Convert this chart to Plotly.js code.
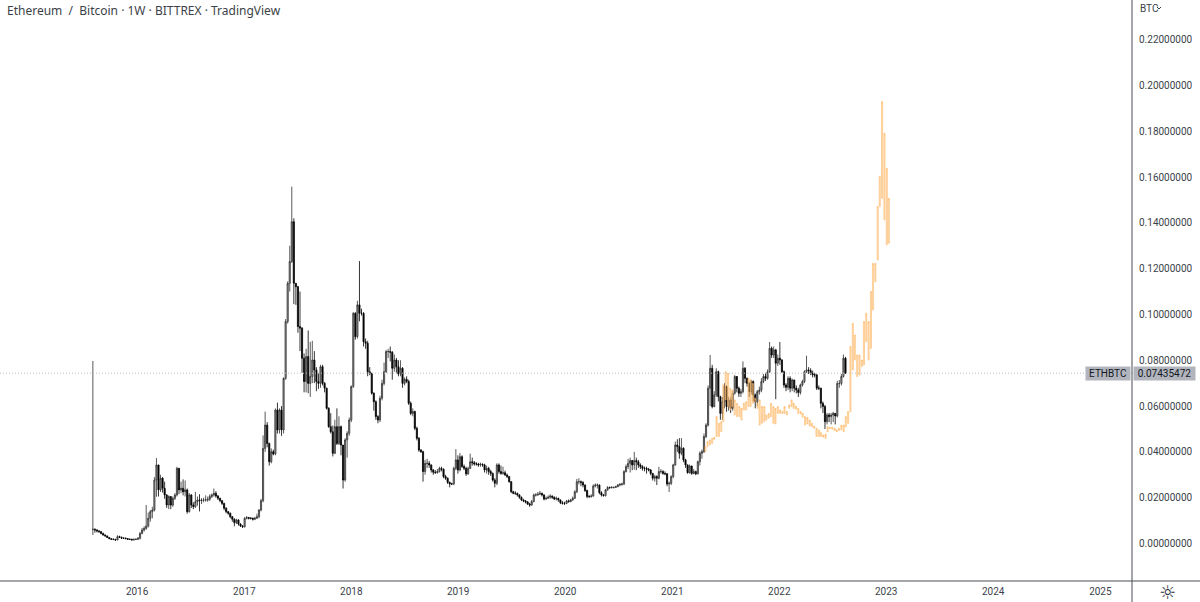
<!DOCTYPE html>
<html>
<head>
<meta charset="utf-8">
<script src="https://cdn.plot.ly/plotly-3.0.1.min.js"></script>
<style>
  html, body { margin: 0; padding: 0; background: #fff; }
  #chart { width: 1200px; height: 602px; }
</style>
</head>
<body>
<div id="chart"></div>
<script>
// weekly candles, first one is the week of 2015-08-03
var firstWeek = '2015-08-03';
var firstOpen = 0.0062;
var lastPrice = 0.07435472;

var closes = [
  .0062,.0059,.0055,.0052,.0044,.0037,.0033,.0026,.0021,.0018,.0018,.0015,.0030,.0027,.0023,.0023,.0021,.0018,.0018,.0015,
  .0018,.0018,.0023,.0044,.0059,.0066,.0076,.0110,.0139,.0146,.0277,.0343,.0234,.0285,.0241,.0212,.0168,.0205,.0168,.0197,
  .0212,.0328,.0234,.0241,.0226,.0234,.0139,.0212,.0168,.0161,.0183,.0190,.0187,.0190,.0190,.0190,.0193,.0205,.0212,.0219,
  .0207,.0197,.0187,.0175,.0154,.0139,.0132,.0117,.0106,.0091,.0103,.0085,.0076,.0073,.0110,.0113,.0110,.0110,.0106,.0110,
  .0117,.0146,.0187,.0415,.0517,.0437,.0357,.0401,.0391,.0583,.0496,.0583,.0496,.0721,.0969,.1136,.1231,.1405,.1136,.1121,
  .0947,.0940,.0809,.0707,.0816,.0699,.0729,.0801,.0758,.0707,.0699,.0772,.0699,.0678,.0590,.0510,.0488,.0394,.0510,.0437,
  .0510,.0430,.0277,.0452,.0481,.0539,.0685,.1005,.0903,.1042,.1005,.1005,.0881,.0874,.0750,.0743,.0656,.0619,.0554,.0539,
  .0634,.0699,.0750,.0838,.0838,.0835,.0765,.0801,.0772,.0740,.0765,.0699,.0717,.0707,.0612,.0568,.0576,.0503,.0459,.0408,
  .0401,.0314,.0350,.0350,.0343,.0321,.0311,.0309,.0314,.0328,.0324,.0292,.0285,.0267,.0260,.0260,.0328,.0365,.0321,.0379,
  .0336,.0328,.0304,.0328,.0357,.0353,.0347,.0347,.0343,.0346,.0343,.0321,.0328,.0314,.0306,.0277,.0263,.0343,.0314,.0306,
  .0309,.0299,.0292,.0270,.0226,.0219,.0219,.0212,.0202,.0190,.0186,.0181,.0172,.0168,.0183,.0212,.0212,.0215,.0219,.0212,
  .0194,.0197,.0202,.0207,.0202,.0194,.0197,.0190,.0178,.0175,.0175,.0186,.0183,.0190,.0197,.0226,.0270,.0270,.0266,.0255,
  .0231,.0205,.0205,.0207,.0251,.0255,.0255,.0222,.0212,.0209,.0234,.0245,.0244,.0245,.0245,.0248,.0255,.0258,.0260,.0314,
  .0336,.0350,.0362,.0343,.0362,.0357,.0343,.0336,.0328,.0328,.0324,.0321,.0306,.0285,.0292,.0285,.0314,.0314,.0306,.0304,
  .0260,.0263,.0292,.0343,.0430,.0423,.0394,.0416,.0365,.0343,.0309,.0338,.0306,.0314,.0304,.0357,.0394,.0401,.0467,.0517,
  .0678,.0765,.0598,.0649,.0750,.0641,.0568,.0619,.0685,.0598,.0627,.0590,.0656,.0729,.0678,.0656,.0663,.0765,.0721,.0699,
  .0663,.0707,.0649,.0619,.0663,.0670,.0707,.0729,.0721,.0750,.0852,.0823,.0845,.0787,.0809,.0801,.0750,.0692,.0682,.0721,
  .0678,.0714,.0678,.0670,.0659,.0692,.0707,.0750,.0758,.0755,.0743,.0736,.0736,.0678,.0678,.0612,.0598,.0532,.0561,.0554,
  .0561,.0568,.0557,.0699,.0699,.0729,.0809,.0744
];

var highs = [
  .0797,.0066,.0062,.0058,.0052,.0047,.0040,.0034,.0028,.0023,.0022,.0020,.0036,.0034,.0030,.0027,.0026,.0024,.0022,.0021,
  .0022,.0023,.0028,.0050,.0068,.0075,.0168,.0135,.0146,.0160,.0290,.0373,.0343,.0300,.0290,.0270,.0215,.0210,.0205,.0205,
  .0220,.0335,.0330,.0270,.0280,.0275,.0240,.0220,.0215,.0180,.0225,.0205,.0215,.0198,.0200,.0210,.0205,.0215,.0218,.0240,
  .0228,.0212,.0200,.0190,.0178,.0158,.0142,.0135,.0120,.0110,.0108,.0105,.0088,.0080,.0115,.0120,.0116,.0115,.0113,.0116,
  .0130,.0150,.0195,.0472,.0576,.0530,.0440,.0415,.0410,.0590,.0615,.0590,.0600,.0725,.0980,.1145,.1300,.1558,.1420,.1135,
  .1125,.1100,.0945,.0830,.0850,.0930,.0880,.0885,.0840,.0770,.0745,.0780,.0780,.0705,.0680,.0595,.0569,.0515,.0540,.0590,
  .0555,.0515,.0430,.0460,.0490,.0550,.0690,.1010,.1010,.1060,.1233,.1025,.1010,.0895,.0885,.0770,.0745,.0660,.0625,.0560,
  .0645,.0715,.0790,.0845,.0850,.0860,.0840,.0825,.0810,.0800,.0800,.0770,.0725,.0730,.0715,.0620,.0590,.0580,.0510,.0465,
  .0412,.0405,.0365,.0370,.0360,.0345,.0325,.0320,.0325,.0335,.0335,.0328,.0300,.0288,.0270,.0265,.0335,.0412,.0385,.0395,
  .0385,.0345,.0335,.0335,.0392,.0375,.0360,.0355,.0352,.0353,.0350,.0348,.0340,.0335,.0322,.0310,.0285,.0350,.0350,.0340,
  .0335,.0318,.0305,.0295,.0272,.0230,.0228,.0222,.0215,.0205,.0195,.0190,.0185,.0178,.0190,.0218,.0220,.0225,.0230,.0222,
  .0215,.0205,.0210,.0215,.0210,.0205,.0205,.0200,.0192,.0185,.0182,.0190,.0192,.0195,.0205,.0232,.0282,.0285,.0275,.0272,
  .0258,.0235,.0212,.0215,.0258,.0262,.0262,.0258,.0228,.0216,.0238,.0250,.0248,.0250,.0248,.0252,.0260,.0264,.0265,.0320,
  .0345,.0370,.0375,.0365,.0400,.0375,.0365,.0350,.0342,.0336,.0335,.0330,.0325,.0308,.0300,.0298,.0335,.0325,.0320,.0315,
  .0308,.0270,.0298,.0348,.0445,.0455,.0460,.0460,.0420,.0370,.0345,.0345,.0340,.0325,.0318,.0362,.0402,.0410,.0480,.0525,
  .0690,.0823,.0780,.0665,.0765,.0755,.0645,.0640,.0700,.0690,.0640,.0640,.0665,.0735,.0715,.0685,.0675,.0795,.0770,.0725,
  .0705,.0715,.0712,.0655,.0670,.0685,.0722,.0740,.0745,.0760,.0880,.0860,.0860,.0850,.0825,.0880,.0805,.0755,.0700,.0730,
  .0730,.0720,.0715,.0690,.0680,.0698,.0715,.0756,.0820,.0770,.0765,.0755,.0745,.0740,.0690,.0680,.0620,.0605,.0570,.0570,
  .0570,.0575,.0570,.0710,.0714,.0740,.0825,.0815
];

var lows = [
  .0037,.0047,.0048,.0046,.0040,.0034,.0030,.0024,.0019,.0016,.0015,.0013,.0015,.0024,.0021,.0020,.0019,.0016,.0016,.0014,
  .0014,.0015,.0016,.0017,.0040,.0052,.0060,.0070,.0095,.0110,.0140,.0204,.0205,.0225,.0222,.0195,.0155,.0150,.0150,.0160,
  .0190,.0205,.0215,.0220,.0210,.0205,.0130,.0135,.0155,.0150,.0155,.0165,.0140,.0172,.0180,.0183,.0182,.0186,.0198,.0205,
  .0200,.0190,.0180,.0168,.0145,.0132,.0125,.0110,.0095,.0075,.0085,.0078,.0072,.0068,.0070,.0105,.0105,.0105,.0100,.0102,
  .0108,.0110,.0140,.0180,.0400,.0420,.0340,.0350,.0385,.0385,.0480,.0480,.0470,.0480,.0715,.0960,.1100,.1225,.1045,.1042,
  .0920,.0840,.0745,.0660,.0660,.0656,.0640,.0700,.0700,.0665,.0675,.0680,.0690,.0660,.0585,.0505,.0480,.0380,.0390,.0430,
  .0430,.0385,.0240,.0270,.0375,.0470,.0530,.0680,.0890,.0895,.0970,.0995,.0860,.0850,.0730,.0735,.0650,.0580,.0540,.0525,
  .0530,.0625,.0690,.0745,.0810,.0795,.0715,.0750,.0745,.0730,.0730,.0680,.0690,.0700,.0605,.0560,.0555,.0495,.0450,.0400,
  .0395,.0270,.0300,.0330,.0330,.0310,.0300,.0305,.0305,.0310,.0315,.0285,.0278,.0260,.0245,.0255,.0255,.0320,.0305,.0315,
  .0330,.0320,.0295,.0300,.0325,.0340,.0340,.0340,.0335,.0335,.0335,.0310,.0305,.0300,.0295,.0270,.0245,.0255,.0305,.0300,
  .0300,.0295,.0285,.0265,.0220,.0215,.0212,.0205,.0195,.0185,.0180,.0175,.0168,.0160,.0165,.0180,.0205,.0208,.0212,.0205,
  .0188,.0190,.0195,.0195,.0195,.0190,.0188,.0182,.0172,.0170,.0168,.0172,.0178,.0180,.0186,.0195,.0220,.0258,.0250,.0245,
  .0225,.0198,.0198,.0200,.0205,.0245,.0240,.0215,.0205,.0205,.0205,.0230,.0238,.0240,.0240,.0242,.0246,.0250,.0252,.0255,
  .0310,.0325,.0310,.0320,.0322,.0320,.0330,.0325,.0318,.0315,.0305,.0315,.0298,.0275,.0270,.0255,.0280,.0305,.0300,.0298,
  .0250,.0225,.0255,.0285,.0340,.0400,.0370,.0385,.0355,.0330,.0305,.0305,.0300,.0302,.0298,.0302,.0340,.0370,.0395,.0460,
  .0510,.0600,.0590,.0595,.0640,.0620,.0540,.0540,.0590,.0575,.0580,.0570,.0580,.0650,.0660,.0640,.0640,.0655,.0700,.0685,
  .0640,.0650,.0620,.0590,.0600,.0650,.0660,.0700,.0710,.0715,.0745,.0810,.0810,.0630,.0775,.0780,.0745,.0680,.0665,.0670,
  .0660,.0665,.0660,.0655,.0640,.0650,.0685,.0700,.0745,.0740,.0735,.0725,.0725,.0670,.0670,.0590,.0570,.0500,.0520,.0530,
  .0520,.0530,.0520,.0550,.0680,.0690,.0725,.0740
];

// the orange pasted pattern, only the top and bottom of each bar
var orangeStart = '2021-04-24';
var orangeDays = 7.74;
var orangeTop = [
  .0423,.0445,.0452,.0459,.0464,.0554,.0525,.0532,.0692,.0750,.0743,.0678,.0670,.0627,.0612,.0598,.0590,.0612,.0619,.0721,
  .0714,.0699,.0634,.0612,.0627,.0598,.0598,.0561,.0568,.0612,.0598,.0590,.0598,.0583,.0576,.0598,.0576,.0605,.0627,.0612,
  .0600,.0590,.0576,.0568,.0554,.0551,.0539,.0525,.0513,.0503,.0496,.0484,.0474,.0478,.0510,.0507,.0507,.0503,.0496,.0503,
  .0517,.0517,.0554,.0576,.0860,.0961,.0910,.0823,.0823,.0801,.0969,.1005,.0969,.1100,.1223,.1223,.1471,.1602,.1929,.1791,
  .1638,.1507
];
var orangeBottom = [
  .0401,.0423,.0430,.0437,.0455,.0467,.0467,.0488,.0532,.0627,.0598,.0583,.0598,.0561,.0554,.0554,.0539,.0583,.0583,.0598,
  .0598,.0612,.0619,.0590,.0517,.0525,.0532,.0539,.0547,.0554,.0525,.0522,.0568,.0568,.0568,.0568,.0561,.0590,.0598,.0590,
  .0586,.0568,.0565,.0551,.0517,.0522,.0513,.0510,.0503,.0467,.0467,.0467,.0464,.0459,.0488,.0501,.0499,.0493,.0488,.0493,
  .0496,.0488,.0510,.0525,.0576,.0758,.0801,.0729,.0736,.0772,.0780,.0881,.0801,.0852,.1020,.1143,.1238,.1471,.1507,.1413,
  .1304,.1311
];

var yearTicks = ['2016','2017','2018','2019','2020','2021','2022','2023','2024','2025'];
var priceTicks = [0, 0.02, 0.04, 0.06, 0.08, 0.10, 0.12, 0.14, 0.16, 0.18, 0.20, 0.22];
var dateRange = ['2014-09-20', '2025-04-19'];

var DAY = 86400000;
var opens = [firstOpen].concat(closes.slice(0, -1));
var weeks = closes.map(function (c, i) {
  return new Date(Date.parse(firstWeek) + i * 7 * DAY).toISOString().slice(0, 10);
});
var orangeWeeks = orangeTop.map(function (c, i) {
  return new Date(Date.parse(orangeStart) + i * orangeDays * DAY).toISOString().slice(0, 10);
});

var textColor = '#3b3f4a';
var uiFont = 'Roboto, sans-serif';

var black = {
  type: 'candlestick',
  x: weeks, open: opens, high: highs, low: lows, close: closes,
  whiskerwidth: 0,
  increasing: { line: { color: '#303030', width: 0.8 }, fillcolor: '#a0a0a0' },
  decreasing: { line: { color: '#000000', width: 0.8 }, fillcolor: '#000000' },
  hoverinfo: 'skip', showlegend: false
};

// own x axis, otherwise its dates mix with the weekly ones and all the boxes go thin
var orange = {
  type: 'candlestick',
  xaxis: 'x2',
  x: orangeWeeks, open: orangeBottom, high: orangeTop, low: orangeBottom, close: orangeTop,
  whiskerwidth: 0,
  increasing: { line: { color: 'rgba(255,175,85,0.5)', width: 1 }, fillcolor: 'rgba(255,210,150,0.6)' },
  decreasing: { line: { color: 'rgba(255,175,85,0.5)', width: 1 }, fillcolor: 'rgba(255,210,150,0.6)' },
  hoverinfo: 'skip', showlegend: false
};

var layout = {
  width: 1200, height: 602,
  margin: { l: 0, r: 68, t: 0, b: 21, pad: 0 },
  paper_bgcolor: '#fff', plot_bgcolor: '#fff',
  showlegend: false,
  boxgap: 0.45,
  boxgroupgap: 0,
  xaxis: {
    type: 'date',
    range: dateRange,
    rangeslider: { visible: false },
    showgrid: false, zeroline: false, showline: false,
    tickmode: 'array',
    tickvals: yearTicks.map(function (y) { return y + '-01-01'; }),
    ticktext: yearTicks,
    ticks: 'outside', ticklen: 1, tickcolor: '#fff',
    tickfont: { family: uiFont, size: 10, color: textColor }
  },
  xaxis2: {
    type: 'date',
    range: dateRange,
    overlaying: 'x',
    visible: false,
    rangeslider: { visible: false }
  },
  yaxis: {
    side: 'right',
    range: [-0.01638, 0.2373],
    showgrid: false, zeroline: false, showline: false,
    tickmode: 'array',
    tickvals: priceTicks,
    ticktext: priceTicks.map(function (p) { return p.toFixed(8); }),
    ticks: 'outside', ticklen: 4, tickcolor: '#fff',
    tickfont: { family: uiFont, size: 10, color: textColor }
  },
  shapes: [
    // last price line
    { type: 'line', xref: 'paper', yref: 'y', x0: 0, x1: 1, y0: lastPrice, y1: lastPrice,
      line: { color: '#bdbdbd', width: 1, dash: '1px,2px' } },
    // scale borders run on to the edge of the window
    { type: 'line', xref: 'paper', yref: 'paper', x0: 0, x1: 1200 / 1132, y0: 0, y1: 0,
      line: { color: '#4a4d55', width: 1 } },
    { type: 'line', xref: 'paper', yref: 'paper', x0: 1, x1: 1, y0: 1, y1: -21 / 581,
      line: { color: '#4a4d55', width: 1 } },
    // chevron next to BTC
    { type: 'path', xref: 'paper', yref: 'paper',
      path: 'M ' + (1157 / 1132) + ' ' + (1 - 7 / 581) + ' L ' + (1159 / 1132) + ' ' + (1 - 9 / 581) + ' L ' + (1161 / 1132) + ' ' + (1 - 7 / 581),
      line: { color: textColor, width: 1 } }
  ],
  annotations: [
    { xref: 'paper', yref: 'paper', x: 4.5 / 1132, y: 1 - 10.5 / 581, xanchor: 'left', yanchor: 'middle',
      showarrow: false, text: 'Ethereum\u00a0 /\u00a0 Bitcoin \u00b7 1W \u00b7 BITTREX \u00b7 TradingView',
      font: { family: '"Noto Sans", sans-serif', size: 12, color: '#3c3f48' } },
    { xref: 'paper', yref: 'paper', x: 1138 / 1132, y: 1 - 8 / 581, xanchor: 'left', yanchor: 'middle',
      showarrow: false, text: 'BTC', font: { family: uiFont, size: 10, color: textColor } },
    { xref: 'paper', yref: 'y', x: 1131 / 1132, y: lastPrice, xanchor: 'right', yanchor: 'middle',
      showarrow: false, text: 'ETHBTC', width: 44, height: 13, align: 'center', borderpad: 0,
      bgcolor: '#b2b5be', font: { family: uiFont, size: 10, color: '#131722' } },
    { xref: 'paper', yref: 'y', x: 1133 / 1132, y: lastPrice, xanchor: 'left', yanchor: 'middle',
      showarrow: false, text: lastPrice.toFixed(8), width: 61, height: 13, align: 'center', borderpad: 0,
      bgcolor: '#b2b5be', font: { family: uiFont, size: 10, color: '#131722' } },
    { xref: 'paper', yref: 'paper', x: 1167 / 1132, y: -11 / 581, xanchor: 'center', yanchor: 'middle',
      showarrow: false, text: '\u263c', font: { family: 'DejaVu Sans', size: 19, color: '#2a2e39' } }
  ]
};

Plotly.newPlot('chart', [black, orange], layout, { displayModeBar: false, staticPlot: true });
</script>
</body>
</html>
